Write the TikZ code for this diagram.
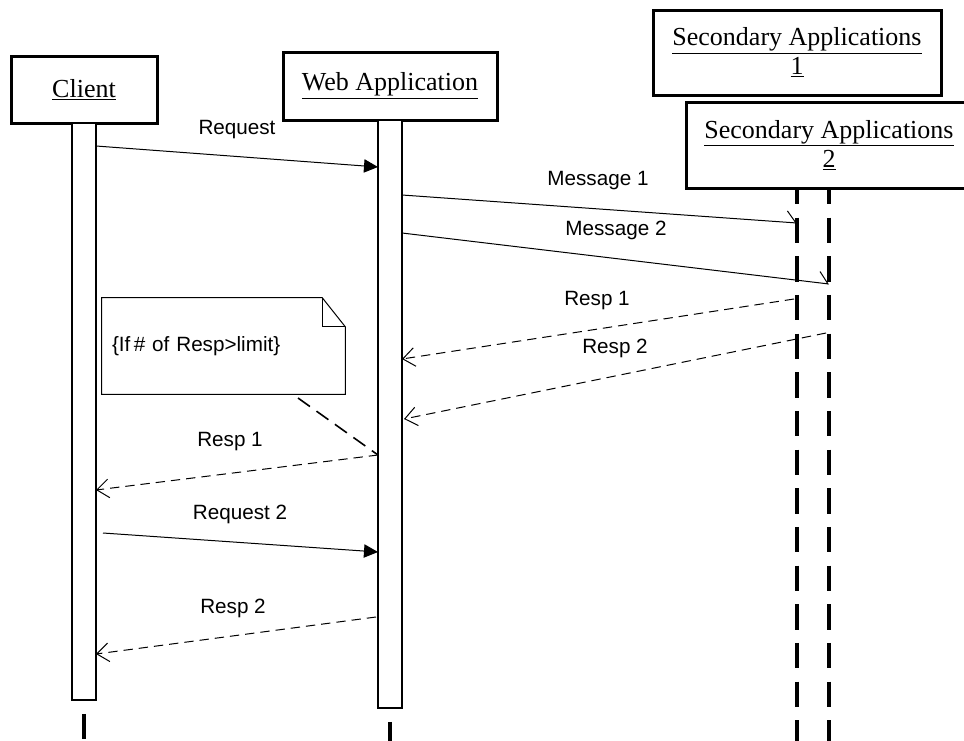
\documentclass[tikz,border=0pt]{standalone}
\usepackage{fontspec}
\setmainfont{Liberation Serif}
\newfontfamily\labelfont{Liberation Sans}
\usetikzlibrary{arrows.meta}

\tikzset{
  objbox/.style={draw, line width=2.25pt, fill=white, align=center,
    font=\fontsize{19.5}{22}\selectfont, inner sep=0pt},
  actbar/.style={draw, line width=0.9pt, fill=white, minimum width=18pt, inner sep=0pt},
  msglabel/.style={font=\labelfont\fontsize{15.5}{18}\selectfont, inner sep=0pt},
  lifeline/.style={line width=2.5pt, dash pattern=on 19pt off 10pt},
  syncmsg/.style={line width=0.75pt, -{Triangle[length=10.5pt,width=10pt]}},
  asyncmsg/.style={line width=0.75pt, -{Straight Barb[left,length=7pt,width=17pt]}},
  replymsg/.style={line width=0.75pt, dash pattern=on 7pt off 4.5pt,
    -{Straight Barb[length=9pt,width=14pt]}},
  notelink/.style={line width=1.2pt, dash pattern=on 11pt off 6pt},
}

\begin{document}
\begin{tikzpicture}[x=0.75pt, y=-0.75pt]
  \useasboundingbox (0,0) rectangle (964,740);

  % the two secondary applications; the lower box hides the upper lifeline's start
  \node[objbox, minimum width=216pt, minimum height=63.75pt] (sec1) at (797,52.5)
    {\underline{Secondary Applications}\\\underline{1}};
  \node[objbox, minimum width=214.5pt, minimum height=64.5pt] (sec2) at (829,145)
    {\underline{Secondary Applications}\\\underline{2}};
  \coordinate (sec1end) at (797,745);
  \coordinate (sec2end) at (829,745);
  \draw[lifeline, dash phase=8pt] (sec1.south |- sec2.south) -- (sec1end);
  \draw[lifeline, dash phase=8pt] (sec2.south) -- (sec2end);

  % client and web application
  \node[objbox, minimum width=109.5pt, minimum height=50.25pt] (client) at (84,89.5)
    {\underline{Client}};
  \node[objbox, minimum width=160.5pt, minimum height=51pt] (web) at (390,86)
    {\underline{Web Application}};

  \node[actbar, minimum height=432.75pt] (clientbar) at (84,411.5) {};
  \node[actbar, minimum height=441pt] (webbar) at (390,414) {};

  \coordinate (clientend) at (84,745);
  \coordinate (webend) at (390,745);
  \draw[lifeline, dash phase=19pt] (clientbar.south) -- (clientend);
  \draw[lifeline, dash phase=19pt] (webbar.south) -- (webend);

  % message end points
  \coordinate (req-a) at (96,146);
  \coordinate (req-b) at (378,167);
  \coordinate (m1-a) at (402,195);
  \coordinate (m1-b) at (797,223);
  \coordinate (m2-a) at (402,233);
  \coordinate (m2-b) at (829,284);
  \coordinate (r1-a) at (794,299);
  \coordinate (r1-b) at (402,359);
  \coordinate (r2-a) at (826,333);
  \coordinate (r2-b) at (404,419);
  \coordinate (c1-a) at (378,455);
  \coordinate (c1-b) at (96,490);
  \coordinate (req2-a) at (103,533);
  \coordinate (req2-b) at (378,552);
  \coordinate (c2-a) at (376,617);
  \coordinate (c2-b) at (96,654);

  \draw[syncmsg] (req-a) -- (req-b);
  \draw[asyncmsg] (m1-a) -- (m1-b);
  \draw[asyncmsg] (m2-a) -- (m2-b);
  \draw[replymsg] (r1-a) -- (r1-b);
  \draw[replymsg] (r2-a) -- (r2-b);
  \draw[replymsg] (c1-a) -- (c1-b);
  \draw[syncmsg] (req2-a) -- (req2-b);
  \draw[replymsg] (c2-a) -- (c2-b);

  % message labels
  \node[msglabel] (l-req) at (237,130) {Request};
  \node[msglabel] (l-m1) at (598,181) {Message 1};
  \node[msglabel] (l-m2) at (616,230) {Message 2};
  \node[msglabel] (l-r1) at (597,301) {Resp 1};
  \node[msglabel] (l-r2) at (615,348) {Resp 2};
  \node[msglabel] (l-c1) at (230,442) {Resp 1};
  \node[msglabel] (l-req2) at (240,514) {Request 2};
  \node[msglabel] (l-c2) at (233,608) {Resp 2};

  % note with folded corner
  \node[minimum width=182.25pt, minimum height=72pt, text width=167.25pt,
        inner xsep=7.5pt, inner ysep=0pt, align=left,
        font=\labelfont\fontsize{15.5}{18}\selectfont] (note) at (223.5,346)
    {\{If\,\# of Resp>limit\}};
  \draw[line width=0.75pt]
    (note.south west) -- (note.north west) -- ([xshift=-17.25pt]note.north east)
    -- ([yshift=-21.75pt]note.north east) -- (note.south east) -- cycle;
  \draw[line width=0.75pt]
    ([xshift=-17.25pt]note.north east) |- ([yshift=-21.75pt]note.north east);
  \coordinate (notefoot) at (298,398);
  \draw[notelink] (notefoot) -- (c1-a);
\end{tikzpicture}
\end{document}
